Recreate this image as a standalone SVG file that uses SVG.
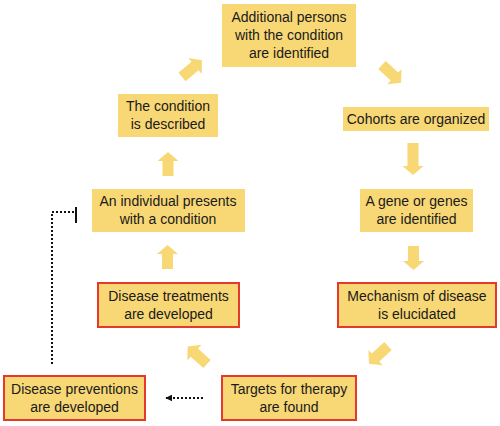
<svg xmlns="http://www.w3.org/2000/svg" width="500" height="426" viewBox="0 0 500 426">
<style>
.box{fill:#F8D775;}
.red{fill:#F8D775;stroke:#E5392B;stroke-width:2;}
text{font-family:"Liberation Sans",Arial,sans-serif;font-size:14px;fill:#1a1a1a;text-anchor:middle;}
.arr{fill:#F8D775;}
.dot{fill:none;stroke:#111;stroke-width:2;stroke-dasharray:2 2;}
</style>
<defs>
<path id="a24" d="M0,-5.5 H15 V-10.5 L24,0 L15,10.5 V5.5 H0 Z"/>
<path id="a26" d="M0,-5.5 H17 V-10.5 L26,0 L17,10.5 V5.5 H0 Z"/>
<path id="a32" d="M0,-5.5 H23 V-10.5 L32,0 L23,10.5 V5.5 H0 Z"/>
<marker id="ah" viewBox="0 0 10 10" refX="9" refY="5" markerWidth="3.5" markerHeight="3.5" orient="auto">
<path d="M0,0 L10,5 L0,10 Z" fill="#111"/>
</marker>
</defs>
<rect width="500" height="426" fill="#fff"/>
<g id="connectors">
<use href="#a24" class="arr" transform="translate(168,176) rotate(-90)"/>
<use href="#a24" class="arr" transform="translate(167.5,269) rotate(-90)"/>
<use href="#a26" class="arr" transform="translate(182,77) rotate(-40)"/>
<use href="#a26" class="arr" transform="translate(382,65) rotate(43)"/>
<use href="#a32" class="arr" transform="translate(413,143) rotate(90)"/>
<use href="#a24" class="arr" transform="translate(413.5,246) rotate(90)"/>
<use href="#a26" class="arr" transform="translate(388,346) rotate(137)"/>
<use href="#a26" class="arr" transform="translate(207,364) rotate(-138)"/>
<path class="dot" d="M203,398 H166" marker-end="url(#ah)"/>
<path class="dot" d="M52,364 V212 H74"/>
<line x1="76" y1="207" x2="76" y2="223" stroke="#111" stroke-width="2"/>
</g>
<g id="n1"><rect class="box" x="222" y="4" width="134" height="63"/>
<text x="289" y="22">Additional persons</text><text x="289" y="40">with the condition</text><text x="289" y="58">are identified</text></g>
<g id="n2"><rect class="box" x="118" y="94" width="100" height="43"/>
<text x="168" y="111">The condition</text><text x="168" y="129">is described</text></g>
<g id="n3"><rect class="box" x="92" y="189" width="153" height="43"/>
<text x="168" y="206">An individual presents</text><text x="168" y="224">with a condition</text></g>
<g id="n4"><rect class="red" x="98" y="283" width="141" height="44"/>
<text x="168.5" y="301">Disease treatments</text><text x="168.5" y="319">are developed</text></g>
<g id="n5"><rect class="red" x="4" y="376" width="141" height="44"/>
<text x="74.5" y="394">Disease preventions</text><text x="74.5" y="412">are developed</text></g>
<g id="n6"><rect class="red" x="222" y="376" width="134" height="44"/>
<text x="289" y="394">Targets for therapy</text><text x="289" y="412">are found</text></g>
<g id="n7"><rect class="red" x="338" y="283" width="158" height="44"/>
<text x="417" y="301">Mechanism of disease</text><text x="417" y="319">is elucidated</text></g>
<g id="n8"><rect class="box" x="360" y="189" width="113" height="43"/>
<text x="416.5" y="206">A gene or genes</text><text x="416.5" y="224">are identified</text></g>
<g id="n9"><rect class="box" x="343" y="107" width="146" height="24"/>
<text x="416" y="124">Cohorts are organized</text></g>
</svg>
